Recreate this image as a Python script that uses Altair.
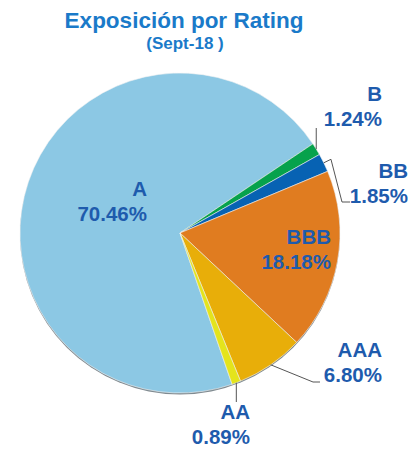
import altair as alt
import pandas as pd
import numpy as np

# ---- data ----
ratings = ["A", "B", "BB", "BBB", "AAA", "AA"]
shares = [70.46, 1.24, 1.85, 18.18, 6.80, 0.89]
pct_labels = ["70.46%", "1.24%", "1.85%", "18.18%", "6.80%", "0.89%"]
colors = ["#8cc8e4", "#06a24c", "#0762b3", "#e07c20", "#e8ae09", "#e4e41c"]

TITLE = "Exposición por Rating"
SUBTITLE = "(Sept-18 )"

# ---- layout / style ----
W, H = 400, 442
CX, CY, R = 172, 225, 160
START_DEG = 161
FONT = "Liberation Sans"
LABEL_COLOR = "#1e5bad"
TITLE_COLOR = "#1a7ac9"
LEADER_COLOR = "#555555"

# label anchors (right edge, first baseline) in plot pixels
LABEL_ANCHOR = {
    "A": (139, 188),
    "B": (374, 93),
    "BB": (400, 170),
    "BBB": (323, 236),
    "AAA": (374, 349),
    "AA": (242, 411),
}

total = sum(shares)
df = pd.DataFrame({"rating": ratings, "share": shares, "order": list(range(len(ratings)))})

start = np.radians(START_DEG)
theta_scale = alt.Scale(domain=[0, total], range=[float(start), float(start + 2 * np.pi)])

# mid angles of slices (degrees, clockwise from north)
cum = np.cumsum([0] + shares)
mid_deg = {r: START_DEG + (cum[i] + cum[i + 1]) / 2 / total * 360 for i, r in enumerate(ratings)}


def polar(angle_deg, r):
    a = np.radians(angle_deg)
    return float(CX + r * np.sin(a)), float(CY - r * np.cos(a))


# leader lines
leader_pts = []


def add_leader(name, pts):
    for i, (px, py) in enumerate(pts):
        leader_pts.append({"grp": name, "seq": i, "px": px, "py": py})


bx, by = polar(mid_deg["B"], R)
add_leader("B", [(bx, by), (bx, 120)])
p0 = polar(mid_deg["BB"], R)
p1 = polar(mid_deg["BB"], R + 8)
add_leader("BB", [p0, p1, (334, 194), (342, 194)])
q0 = polar(mid_deg["AAA"], R)
add_leader("AAA", [q0, (305, 374), (312, 374)])
ax_, ay_ = polar(mid_deg["AA"], R)
add_leader("AA", [(ax_, ay_), (ax_, 394)])
leaders_df = pd.DataFrame(leader_pts)

labels_df = pd.DataFrame({
    "txt": [f"{r}\n{p}" for r, p in zip(ratings, pct_labels)],
    "lx": [LABEL_ANCHOR[r][0] for r in ratings],
    "ly": [LABEL_ANCHOR[r][1] for r in ratings],
})

shadow = alt.Chart(pd.DataFrame({"v": [1]})).mark_arc(
    outerRadius=R, theta=0, theta2=2 * np.pi, color="#7f8a90"
).encode(x=alt.value(CX), y=alt.value(CY + 1.5))

pie = alt.Chart(df).mark_arc(outerRadius=R, stroke="#f4f4f4", strokeWidth=0.6).encode(
    theta=alt.Theta("share:Q", stack=True, scale=theta_scale),
    color=alt.Color("rating:N", scale=alt.Scale(domain=ratings, range=colors), legend=None),
    order=alt.Order("order:Q"),
    x=alt.value(CX),
    y=alt.value(CY),
)

leaders = alt.Chart(leaders_df).mark_line(color=LEADER_COLOR, strokeWidth=1).encode(
    x=alt.X("px:Q", scale=None),
    y=alt.Y("py:Q", scale=None),
    detail="grp:N",
    order="seq:Q",
)

labels = alt.Chart(labels_df).mark_text(
    align="right", baseline="alphabetic", lineBreak="\n", lineHeight=25,
    font=FONT, fontSize=20.5, fontWeight="bold", color=LABEL_COLOR,
).encode(
    x=alt.X("lx:Q", scale=None),
    y=alt.Y("ly:Q", scale=None),
    text="txt:N",
)

title = alt.Chart(pd.DataFrame({"t": [TITLE]})).mark_text(
    align="center", baseline="alphabetic", font=FONT, fontSize=22.5,
    fontWeight="bold", color=TITLE_COLOR,
).encode(x=alt.value(176), y=alt.value(20), text="t:N")

subtitle = alt.Chart(pd.DataFrame({"t": [SUBTITLE]})).mark_text(
    align="center", baseline="alphabetic", font=FONT, fontSize=17,
    fontWeight="bold", color=TITLE_COLOR,
).encode(x=alt.value(177), y=alt.value(41), text="t:N")

chart = alt.layer(shadow, pie, leaders, labels, title, subtitle).properties(
    width=W, height=H, padding=0, autosize="none"
).configure_view(stroke=None)

chart.save("out.html", embed_options={"renderer": "svg", "actions": False})
